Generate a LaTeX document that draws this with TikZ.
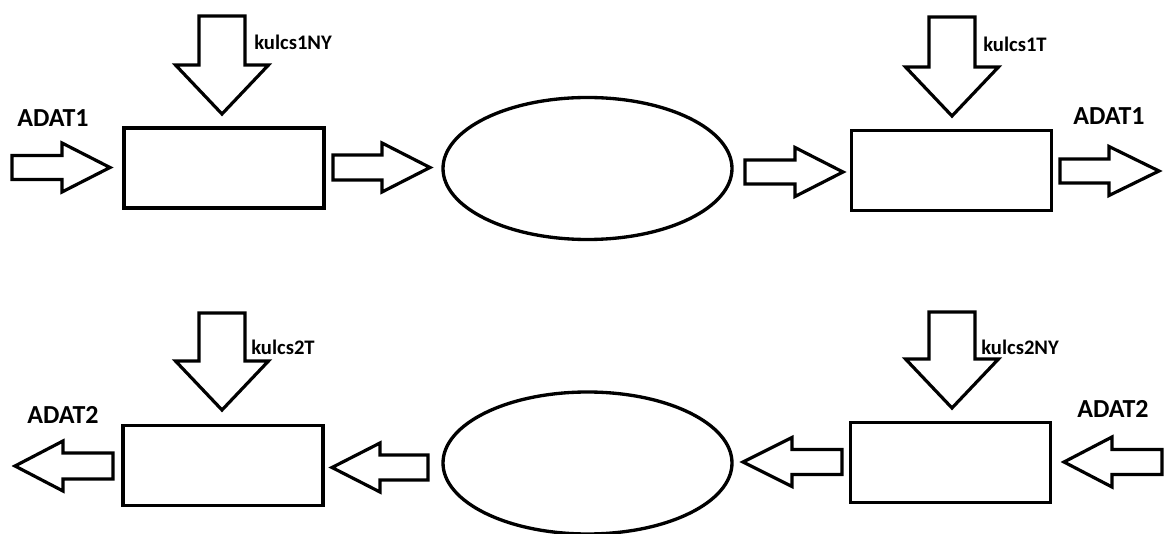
\documentclass[tikz,border=0pt]{standalone}
\usepackage{fontspec}
\setmainfont{Carlito}
\usepackage{tikz}
\usetikzlibrary{shapes.geometric, calc}

% block arrow: tail, tip, shaft half width, head half width, head length (px)
\newcommand{\fatarrow}[5]{%
  \coordinate (hb) at ($(#2)!#5*0.75pt!(#1)$);
  \draw [fat] ($(#1)!#3*0.75pt!90:(#2)$) -- ($(hb)!#3*0.75pt!90:(#2)$)
    -- ($(hb)!#4*0.75pt!90:(#2)$) -- (#2) -- ($(hb)!#4*0.75pt!-90:(#2)$)
    -- ($(hb)!#3*0.75pt!-90:(#2)$) -- ($(#1)!#3*0.75pt!-90:(#2)$) -- cycle;}

\begin{document}
\begin{tikzpicture}[x=0.75pt, y=-0.75pt]
\tikzstyle{box} = [rectangle, minimum width=150pt, minimum height=60pt, draw=black, line width=2.5pt, fill=white]
\tikzstyle{channel} = [ellipse, inner sep=0pt, minimum width=216.75pt, minimum height=106.5pt, draw=black, line width=2.5pt]
\tikzstyle{fat} = [draw=black, line width=2.4pt, line join=miter, fill=white]
\tikzstyle{data} = [anchor=base west, inner sep=0pt, font=\bfseries\fontsize{19.5}{20}\selectfont]
\tikzstyle{key} = [anchor=base west, inner sep=0pt, font=\bfseries\fontsize{15.5}{16}\selectfont]

\useasboundingbox (0,0) rectangle (1164,534);

% first line
\node (enc1) [box] at (224,168) {};
\node (chan1) [channel] at (587.5,168.5) {};
\node (dec1) [box] at (951.5,170.5) {};

\node (data1in) [data] at (17,126.5) {ADAT1};
\node (data1out) [data] at (1073,125) {ADAT1};
\node (key1ny) [key] at (254,49.5) {kulcs1NY};
\node (key1t) [key] at (983,51.5) {kulcs1T};

\coordinate (a1) at (12,167.5);    \coordinate (b1) at (110,167.5);
\coordinate (a2) at (333,167.5);   \coordinate (b2) at (430,167.5);
\coordinate (a3) at (745,172);     \coordinate (b3) at (843,172);
\coordinate (a4) at (1060,171);    \coordinate (b4) at (1159,171);
\coordinate (k1) at (222,16);      \coordinate (l1) at (222,114);
\coordinate (k2) at (952,17);      \coordinate (l2) at (952,116);

\fatarrow{a1}{b1}{12}{24.5}{48}
\fatarrow{a2}{b2}{12.5}{24.5}{48}
\fatarrow{a3}{b3}{12}{24.5}{48}
\fatarrow{a4}{b4}{12}{24.5}{50}
\fatarrow{k1}{l1}{23}{46.5}{49}
\fatarrow{k2}{l2}{23}{46.5}{49}

% second line
\node (dec2) [box] at (223,465.5) {};
\node (chan2) [channel] at (587.5,463) {};
\node (enc2) [box] at (950.5,462.5) {};

\node (data2out) [data] at (27,424) {ADAT2};
\node (data2in) [data] at (1077,418) {ADAT2};
\node (key2t) [key] at (251,355) {kulcs2T};
\node (key2ny) [key] at (981,355) {kulcs2NY};

\coordinate (a5) at (1162,462);    \coordinate (b5) at (1064,462);
\coordinate (a6) at (842,462);     \coordinate (b6) at (743,462);
\coordinate (a7) at (428,467.5);   \coordinate (b7) at (332,467.5);
\coordinate (a8) at (113,466);     \coordinate (b8) at (15,466);
\coordinate (k3) at (222,313);     \coordinate (l3) at (222,410);
\coordinate (k4) at (952,312);     \coordinate (l4) at (952,408);

\fatarrow{a5}{b5}{12.5}{25}{48}
\fatarrow{a6}{b6}{12.5}{24.5}{49}
\fatarrow{a7}{b7}{12.5}{24.5}{48}
\fatarrow{a8}{b8}{13}{25}{48}
\fatarrow{k3}{l3}{23}{46.5}{49}
\fatarrow{k4}{l4}{23}{46.5}{49}
\end{tikzpicture}
\end{document}
